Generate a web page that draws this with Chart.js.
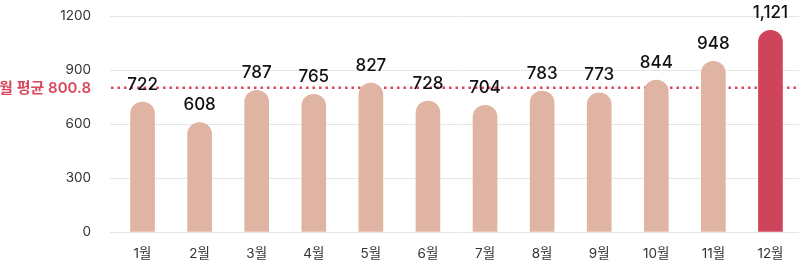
<!DOCTYPE html>
<html>
<head>
<meta charset="utf-8">
<script src="https://cdn.jsdelivr.net/npm/chart.js@4"></script>
<style>
    html, body { margin: 0; padding: 0; background: #fff; }
    #wrap { width: 804px; height: 261px; position: relative; }
</style>
</head>
<body>
<div id="wrap"><canvas id="monthlyChart"></canvas></div>
<script>
// chart values
const months = ['1월', '2월', '3월', '4월', '5월', '6월', '7월', '8월', '9월', '10월', '11월', '12월'];
const counts = [722, 608, 787, 765, 827, 728, 704, 783, 773, 844, 948, 1121];
const averageValue = [800.8];
const averageLabel = ['월 평균'];
const yTicks = [0, 300, 600, 900, 1200];

const FONT = 'Inter, "Noto Sans CJK KR", "Noto Sans", sans-serif';
const barColor = '#E0B4A2';
const lastColor = '#CF445B';
const avgColor = '#D9475C';

// dotted average line + label, drawn behind bars
const averageLine = {
    id: 'averageLine',
    beforeDatasetsDraw(chart) {
        const ctx = chart.ctx;
        const y = chart.scales.y.getPixelForValue(averageValue[0]);
        const area = chart.chartArea;
        ctx.save();
        ctx.strokeStyle = avgColor;
        ctx.lineWidth = 2.5;
        ctx.setLineDash([2.5, 4]);
        ctx.beginPath();
        ctx.moveTo(area.left - 3, y);
        ctx.lineTo(area.right, y);
        ctx.stroke();
        ctx.setLineDash([]);
        ctx.fillStyle = avgColor;
        ctx.font = '600 15px ' + FONT;
        ctx.textAlign = 'right';
        ctx.textBaseline = 'middle';
        ctx.fillText(averageLabel[0] + ' ' + averageValue[0], 91, y + 1);
        ctx.restore();
    }
};

// numbers above each bar
const valueLabels = {
    id: 'valueLabels',
    afterDatasetsDraw(chart) {
        const ctx = chart.ctx;
        const meta = chart.getDatasetMeta(0);
        ctx.save();
        ctx.fillStyle = '#111';
        ctx.font = '500 17px ' + FONT;
        ctx.textAlign = 'center';
        ctx.textBaseline = 'bottom';
        meta.data.forEach((bar, i) => {
            ctx.fillText(counts[i].toLocaleString('en-US'), bar.x, bar.y - 9);
        });
        ctx.restore();
    }
};

const ctx = document.getElementById('monthlyChart').getContext('2d');
new Chart(ctx, {
    type: 'bar',
    data: {
        labels: months,
        datasets: [{
            data: counts,
            backgroundColor: counts.map((v, i) => i === counts.length - 1 ? lastColor : barColor),
            barThickness: 24,
            borderRadius: { topLeft: 12, topRight: 12, bottomLeft: 0, bottomRight: 0 },
            borderSkipped: 'bottom'
        }]
    },
    options: {
        responsive: true,
        maintainAspectRatio: false,
        animation: false,
        layout: { padding: { top: 16, right: 5, bottom: 0, left: 0 } },
        plugins: {
            legend: { display: false },
            tooltip: { enabled: false }
        },
        scales: {
            x: {
                grid: { display: false },
                border: { display: false },
                afterFit(scale) { scale.height = 29; },
                ticks: {
                    color: '#333',
                    padding: 6,
                    font: { family: FONT, size: 13.5 }
                }
            },
            y: {
                min: 0,
                max: 1200,
                afterFit(scale) {
                    scale.width = 114;
                    scale.paddingTop = 0;
                    scale.paddingBottom = 0;
                },
                afterBuildTicks(scale) { scale.ticks = yTicks.map(v => ({ value: v })); },
                border: { display: false },
                grid: { color: '#e6e6e6', lineWidth: 1, tickLength: 4 },
                ticks: {
                    color: '#333',
                    padding: 19,
                    font: { family: FONT, size: 13.5 },
                    callback: v => String(v)
                }
            }
        }
    },
    plugins: [averageLine, valueLabels]
});
</script>
</body>
</html>
